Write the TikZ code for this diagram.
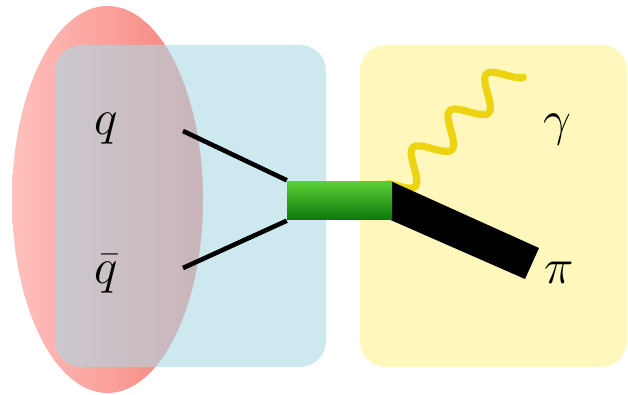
\documentclass[tikz,border=0pt]{standalone}
\definecolor{bluebg}{RGB}{173,216,230}
\definecolor{yellowbg}{RGB}{255,247,187}
\definecolor{redL}{RGB}{255,193,191}
\definecolor{redR}{RGB}{244,128,118}
\definecolor{greenT}{RGB}{88,206,52}
\definecolor{greenB}{RGB}{12,122,12}
\definecolor{photoncol}{RGB}{236,212,16}
\pgfdeclarelayer{bg}
\pgfdeclarelayer{mid}
\pgfsetlayers{bg,mid,main}
\begin{document}
\begin{tikzpicture}[x=1pt,y=-1pt,
  lbl/.style={font=\Huge, anchor=base, inner sep=0pt, scale=2.0, transform shape},
  panel/.style={rounded corners=26pt},
  quark/.style={line width=4.6pt, black},
  meson/.style={black},
  photon/.style={line width=7.2pt, photoncol, line cap=round, line join=round},
  vertexbox/.style={minimum width=105pt, minimum height=37pt, inner sep=0pt,
    top color=greenT, bottom color=greenB}]
\useasboundingbox (0,0) rectangle (628,395);
\begin{pgfonlayer}{bg}
  \shade[left color=redL, right color=redR] (107.5,199.5) ellipse [x radius=95.5, y radius=193.5];
  \fill[bluebg, opacity=0.6, panel] (55,45) rectangle (326,367);
  \fill[yellowbg, panel] (360,45) rectangle (627,367);
\end{pgfonlayer}
\node[lbl] (q) at (106,135) {$q$};
\node[lbl] (qbar) at (106,283) {$\bar q$};
\node[lbl] (gamma) at (557,136) {$\gamma$};
\node[lbl] (pi) at (559,283) {$\pi$};
\node[vertexbox] (vtx) at (339.5,200.5) {};
\coordinate (qend) at (183,131);
\coordinate (qbarend) at (183,268);
\coordinate (pitop) at (539,248);
\coordinate (pibot) at (525,279);
\coordinate (barin) at (386,218);
\begin{pgfonlayer}{mid}
  \draw[quark] (qend) -- ([yshift=1.5pt]vtx.north west);
  \draw[quark] (qbarend) -- ([yshift=-1.5pt]vtx.south west);
  \draw[photon] plot[domain=-3.59:17.0, samples=160, variable=\t, smooth]
    ({414 + 5.852*\t - 10.25*sin(\t r)}, {167 - 5.852*\t - 10.25*sin(\t r)});
  \fill[meson] (vtx.north east) -- (pitop) -- (pibot) -- (barin) -- cycle;
\end{pgfonlayer}
\end{tikzpicture}
\end{document}
